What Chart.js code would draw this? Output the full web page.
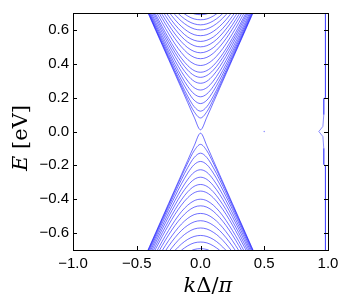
<!DOCTYPE html>
<html>
<head>
<meta charset="utf-8">
<script src="https://cdn.jsdelivr.net/npm/chart.js@4"></script>
<style>
  html, body { margin: 0; padding: 0; background: #fff; }
  #wrap { width: 353px; height: 302px; }
</style>
</head>
<body>
<div id="wrap"><canvas id="myChart"></canvas></div>
<script>
// k values (only k >= 0, bands are mirrored to negative k)
const kHalf = [0, 0.05, 0.1, 0.15, 0.2, 0.25, 0.3, 0.35, 0.4, 0.45];

// conduction subbands, E at each kHalf
const upperBands = [
  [0.01, 0.085, 0.17, 0.255, 0.34, 0.425, 0.51, 0.595, 0.68, 0.765],
  [0.08, 0.117, 0.188, 0.267, 0.349, 0.432, 0.516, 0.600, 0.685, 0.769],
  [0.12, 0.147, 0.208, 0.282, 0.361, 0.442, 0.524, 0.607, 0.691, 0.774],
  [0.165, 0.185, 0.237, 0.304, 0.378, 0.456, 0.536, 0.617, 0.700, 0.783],
  [0.205, 0.222, 0.266, 0.327, 0.397, 0.472, 0.550, 0.629, 0.710, 0.792],
  [0.245, 0.259, 0.298, 0.354, 0.419, 0.491, 0.566, 0.643, 0.723],
  [0.285, 0.297, 0.332, 0.382, 0.444, 0.512, 0.584, 0.660, 0.737],
  [0.32, 0.331, 0.362, 0.409, 0.467, 0.532, 0.602, 0.676, 0.752],
  [0.35, 0.360, 0.389, 0.433, 0.488, 0.551, 0.619, 0.690, 0.765],
  [0.39, 0.399, 0.425, 0.466, 0.517, 0.577, 0.642, 0.711],
  [0.43, 0.438, 0.462, 0.500, 0.548, 0.605, 0.667, 0.734],
  [0.465, 0.473, 0.495, 0.530, 0.576, 0.630, 0.690, 0.755],
  [0.5, 0.507, 0.528, 0.561, 0.605, 0.656, 0.714],
  [0.532, 0.539, 0.558, 0.590, 0.631, 0.681, 0.737],
  [0.566, 0.572, 0.591, 0.621, 0.660, 0.708],
  [0.6, 0.606, 0.624, 0.652, 0.690, 0.735],
  [0.63, 0.636, 0.653, 0.680, 0.716],
  [0.66, 0.665, 0.682, 0.708],
  [0.69, 0.695, 0.711]
];

// valence subbands
const lowerBands = [
  [-0.01, -0.085, -0.17, -0.255, -0.34, -0.425, -0.51, -0.595, -0.68, -0.765],
  [-0.076, -0.114, -0.186, -0.266, -0.348, -0.432, -0.516, -0.600, -0.684, -0.769],
  [-0.128, -0.154, -0.213, -0.285, -0.363, -0.444, -0.526, -0.609, -0.692, -0.776],
  [-0.177, -0.196, -0.245, -0.310, -0.383, -0.460, -0.540, -0.621, -0.703, -0.785],
  [-0.226, -0.241, -0.283, -0.341, -0.408, -0.481, -0.558, -0.636, -0.717],
  [-0.27, -0.283, -0.319, -0.371, -0.434, -0.503, -0.577, -0.653, -0.732],
  [-0.313, -0.324, -0.356, -0.404, -0.462, -0.528, -0.598, -0.672, -0.749],
  [-0.352, -0.362, -0.391, -0.435, -0.489, -0.552, -0.620, -0.691, -0.766],
  [-0.40, -0.409, -0.435, -0.474, -0.525, -0.584, -0.648, -0.717],
  [-0.439, -0.447, -0.471, -0.508, -0.555, -0.611, -0.673, -0.739],
  [-0.484, -0.491, -0.513, -0.547, -0.592, -0.644, -0.703],
  [-0.527, -0.534, -0.554, -0.585, -0.627, -0.677, -0.733],
  [-0.57, -0.576, -0.595, -0.624, -0.664, -0.711],
  [-0.614, -0.620, -0.637, -0.665, -0.702],
  [-0.653, -0.658, -0.675, -0.701],
  [-0.692, -0.697, -0.713]
];

// edge state near the zone boundary
const edgeK = [0.98, 0.98, 0.967, 0.967, 0.960, 0.928, 0.960, 0.967, 0.967, 0.98, 0.98];
const edgeE = [0.75, 0.20, 0.195, 0.10, 0.03, 0.0, -0.03, -0.10, -0.195, -0.20, -0.75];

// lone point
const dotK = [0.5];
const dotE = [0.0];

const xTicks = [-1.0, -0.5, 0.0, 0.5, 1.0];
const yTicks = [-0.6, -0.4, -0.2, 0.0, 0.2, 0.4, 0.6];

const bandColor = 'rgba(25, 25, 255, 0.7)';

function bandPoints(vals) {
  let pts = [];
  for (let i = vals.length - 1; i > 0; i--) pts.push({x: -kHalf[i], y: vals[i]});
  for (let i = 0; i < vals.length; i++) pts.push({x: kHalf[i], y: vals[i]});
  return pts;
}

let datasets = [];
upperBands.concat(lowerBands).forEach(b => {
  datasets.push({
    data: bandPoints(b),
    showLine: true,
    borderColor: bandColor,
    borderWidth: 0.9,
    pointRadius: 0,
    cubicInterpolationMode: 'monotone'
  });
});
datasets.push({
  data: edgeK.map((k, i) => ({x: k, y: edgeE[i]})),
  showLine: true,
  borderColor: 'rgba(60, 60, 255, 0.6)',
  borderWidth: 1,
  pointRadius: 0,
  tension: 0
});
datasets.push({
  data: dotK.map((k, i) => ({x: k, y: dotE[i]})),
  showLine: false,
  pointRadius: 0.8,
  backgroundColor: 'rgba(80, 80, 255, 0.6)',
  borderWidth: 0
});

const fmt = v => Number(v).toFixed(1).replace('-', '\u2212');

// frame, inward ticks and axis titles
const framePlugin = {
  id: 'frame',
  afterDraw(chart) {
    const ctx = chart.ctx;
    const a = chart.chartArea;
    const xs = chart.scales.x, ys = chart.scales.y;
    ctx.save();
    ctx.strokeStyle = '#000';
    ctx.lineWidth = 1;
    ctx.strokeRect(Math.round(a.left) + 0.5, Math.round(a.top) + 0.5,
                   Math.round(a.right - a.left), Math.round(a.bottom - a.top));
    ctx.beginPath();
    xTicks.forEach(v => {
      const px = Math.round(xs.getPixelForValue(v)) + 0.5;
      ctx.moveTo(px, a.bottom); ctx.lineTo(px, a.bottom - 4);
      ctx.moveTo(px, a.top); ctx.lineTo(px, a.top + 4);
    });
    yTicks.forEach(v => {
      const py = Math.round(ys.getPixelForValue(v)) + 0.5;
      ctx.moveTo(a.left, py); ctx.lineTo(a.left + 4, py);
      ctx.moveTo(a.right, py); ctx.lineTo(a.right - 4, py);
    });
    ctx.stroke();

    // x title: k Δ / π
    ctx.fillStyle = '#000';
    ctx.textBaseline = 'alphabetic';
    const parts = [['k', 'italic 21px "DejaVu Serif"'], ['\u0394', '21px "DejaVu Serif"'],
                   ['/', '21px "DejaVu Serif"'], ['\u03c0', 'italic 21px "DejaVu Serif"']];
    let w = 0;
    parts.forEach(p => { ctx.font = p[1]; w += ctx.measureText(p[0]).width; });
    let x = 208 - w / 2;
    parts.forEach(p => { ctx.font = p[1]; ctx.fillText(p[0], x, 292); x += ctx.measureText(p[0]).width; });

    // y title: E [eV]
    ctx.translate(27, 138);
    ctx.rotate(-Math.PI / 2);
    const yparts = [['E', 'italic 21px "DejaVu Serif"'], [' [eV]', '21px "DejaVu Serif"']];
    w = 0;
    yparts.forEach(p => { ctx.font = p[1]; w += ctx.measureText(p[0]).width; });
    x = -w / 2;
    yparts.forEach(p => { ctx.font = p[1]; ctx.fillText(p[0], x, 0); x += ctx.measureText(p[0]).width; });
    ctx.restore();
  }
};

const tickFont = { family: '"Liberation Sans", Arial, sans-serif', size: 15 };

new Chart(document.getElementById('myChart'), {
  type: 'scatter',
  data: { datasets: datasets },
  options: {
    responsive: true,
    maintainAspectRatio: false,
    animation: false,
    events: [],
    layout: { padding: { left: 0, top: 8, right: 25, bottom: 0 } },
    plugins: { legend: { display: false }, tooltip: { enabled: false } },
    scales: {
      x: {
        type: 'linear', min: -1, max: 1,
        afterBuildTicks: s => { s.ticks = xTicks.map(v => ({value: v})); },
        afterFit: s => { s.height = 52; },
        grid: { display: false, drawTicks: false },
        border: { display: false },
        ticks: { color: '#000', font: tickFont, padding: 5, maxRotation: 0, callback: v => fmt(v) }
      },
      y: {
        type: 'linear', min: -0.7, max: 0.7,
        afterBuildTicks: s => { s.ticks = yTicks.map(v => ({value: v})); },
        afterFit: s => { s.width = 73; },
        grid: { display: false, drawTicks: false },
        border: { display: false },
        ticks: { color: '#000', font: tickFont, padding: 4, callback: v => fmt(v) }
      }
    }
  },
  plugins: [framePlugin]
});
</script>
</body>
</html>
